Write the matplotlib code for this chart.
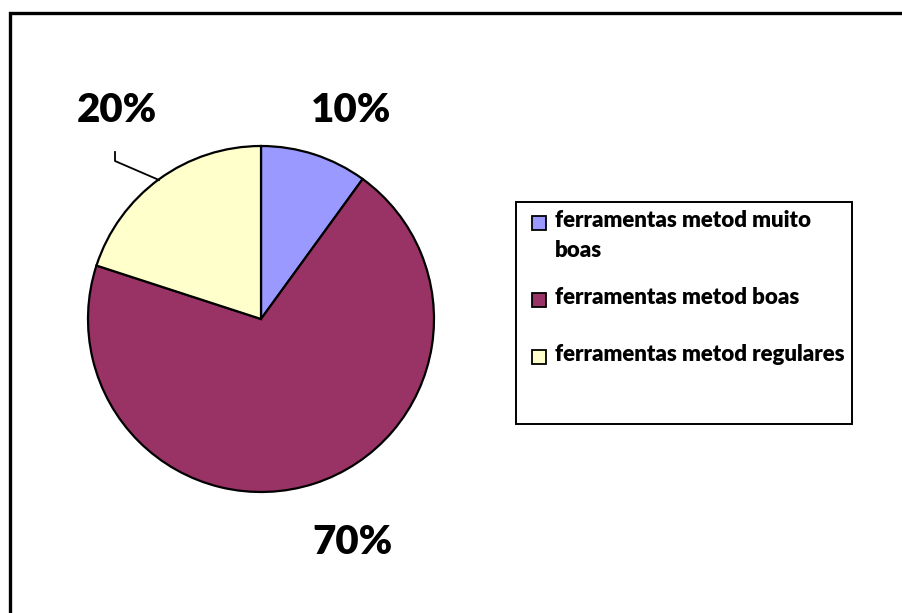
import matplotlib
matplotlib.use("Agg")
import matplotlib.pyplot as plt
from matplotlib.patches import Rectangle
from matplotlib.lines import Line2D

labels = ["ferramentas metod muito\nboas", "ferramentas metod boas", "ferramentas metod regulares"]
values = [10, 70, 20]
pct_labels = ["10%", "70%", "20%"]
colors = ["#9999FF", "#993366", "#FFFFCC"]

W, H = 902, 613
fig = plt.figure(figsize=(W / 100, H / 100), dpi=100)
FONT = ["Lato", "DejaVu Sans"]

def fx(px):
    return px / W

def fy(py):
    return 1 - py / H

# outer border
fig.patches.append(Rectangle((fx(9.5), fy(700)), fx(1000), fy(13.5) - fy(700),
                             transform=fig.transFigure, fill=False,
                             edgecolor="black", linewidth=2.4))

# pie axes: center (261,319), radius 173
cx, cy, r = 261, 319, 173
ax = fig.add_axes([fx(cx - r), fy(cy + r), fx(2 * r), fy(cy - r) - fy(cy + r)])
ax.pie(values, colors=colors, startangle=90, counterclock=False, radius=1,
       wedgeprops=dict(edgecolor="black", linewidth=1.6))
ax.set_xlim(-1, 1)
ax.set_ylim(-1, 1)
ax.set_aspect("auto")
ax.axis("off")

def d(px, py):
    return ((px - cx) / r, (cy - py) / r)

label_pos = [(351, 111), (352, 543), (117, 111)]
for t, (px, py) in zip(pct_labels, label_pos):
    x, y = d(px, py)
    ax.text(x, y, t, ha="center", va="center", fontsize=29, fontweight="heavy",
            family=FONT, clip_on=False)

# leader line for 20%
pts = [d(115, 152), d(115, 161), d(159, 180)]
ax.add_line(Line2D([p[0] for p in pts], [p[1] for p in pts], color="black",
                   linewidth=1.3, clip_on=False))

# legend box
fig.patches.append(Rectangle((fx(516), fy(424)), fx(852) - fx(516), fy(202) - fy(424),
                             transform=fig.transFigure, fill=False,
                             edgecolor="black", linewidth=1.4))
rows = [223, 300, 357]
for lab, col, ry in zip(labels, colors, rows):
    fig.patches.append(Rectangle((fx(532), fy(ry + 7)), fx(14), fy(ry - 7) - fy(ry + 7),
                                 transform=fig.transFigure, facecolor=col,
                                 edgecolor="black", linewidth=1.3))
    fig.text(fx(555), fy(ry - 13), lab, ha="left", va="top", fontsize=16.0,
             fontweight="heavy", family=FONT, linespacing=1.55)

fig.savefig("out.png", dpi=100)
